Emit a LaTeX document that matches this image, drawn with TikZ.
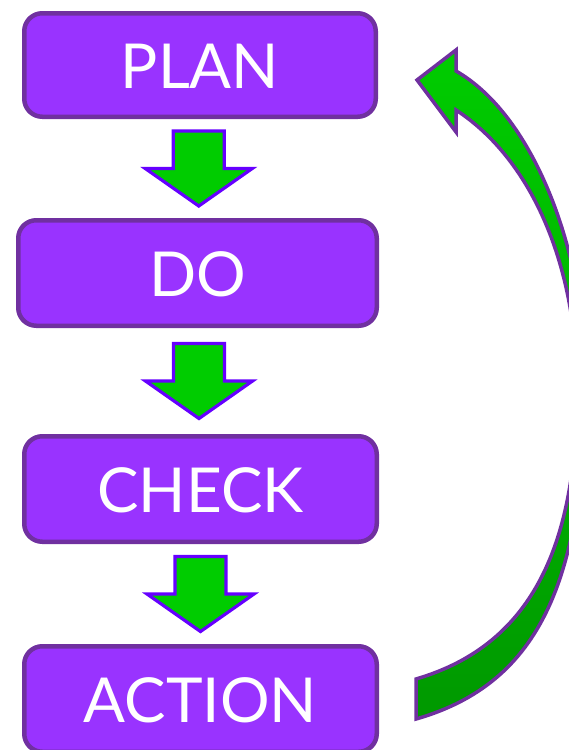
\documentclass[tikz,border=0pt]{standalone}
\usepackage{fontspec}
\setmainfont{Lato}
\usetikzlibrary{calc}
\definecolor{boxfill}{HTML}{9933FF}
\definecolor{boxline}{HTML}{7030A0}
\definecolor{arrline}{HTML}{6600FF}
\definecolor{arrfill}{HTML}{00CC00}
\definecolor{arrdark}{HTML}{009900}
\tikzset{
  stagebox/.style={draw=boxline, fill=boxfill, line width=2.25pt, rounded corners=9pt,
    minimum height=51.75pt, text=white, font=\fontsize{31}{31}\selectfont,
    text height=23.7pt, text depth=0pt, inner sep=0pt},
  downarr/.style={draw=arrline, fill=arrfill, line width=1.6pt, line join=miter},
  looparr/.style={draw=boxline, line width=1.75pt, top color=arrfill, bottom color=arrdark, line join=miter},
  pics/dnarrow/.style={code={
    \draw[downarr] (-25.5,-37.5) -- (25.5,-37.5) -- (25.5,0) -- (53.5,0) -- (0,37.5)
      -- (-53.5,0) -- (-25.5,0) -- cycle;}}
}
\begin{document}
\begin{tikzpicture}[x=0.5pt,y=-0.5pt]
\useasboundingbox (0,0) rectangle (568,750);
\node[stagebox, minimum width=175.75pt] (plan) at (200,65) {PLAN};
\node[stagebox, minimum width=179.25pt, minimum height=52.75pt] (do) at (197.5,273) {DO};
\node[stagebox, minimum width=176.25pt, minimum height=52.75pt] (check) at (200.5,489) {CHECK};
\node[stagebox, minimum width=176.25pt, minimum height=52.75pt] (action) at (200.5,699) {ACTION};
\pic at ($(plan.south)!0.5!(do.north)$) {dnarrow};
\pic at ($(do.south)!0.5!(check.north)$) {dnarrow};
\pic at ($(check.south)!0.5!(action.north)$) {dnarrow};
\path[looparr] (417,80) -- (456,50) -- (456,71)
  .. controls (536,117) and (585,256) .. (585,376)
  .. controls (585,576) and (542,683) .. (416,719)
  -- (416,679)
  .. controls (536,644) and (577,539) .. (577,389)
  .. controls (577,269) and (534,161) .. (456,110)
  -- (456,132) -- cycle;
\end{tikzpicture}
\end{document}
